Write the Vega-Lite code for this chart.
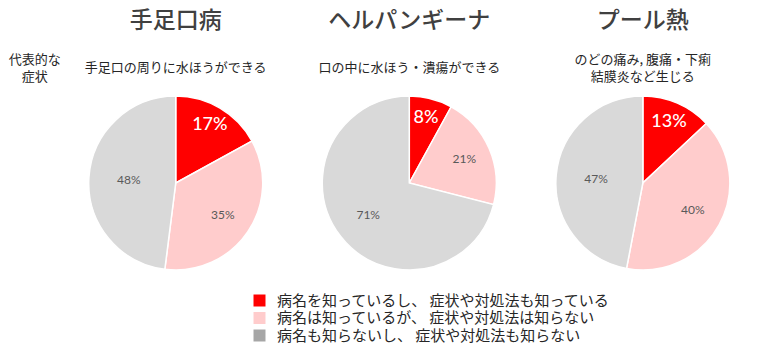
{
  "$schema": "https://vega.github.io/schema/vega-lite/v6.json",
  "width": 760,
  "height": 354,
  "autosize": {"type": "fit", "contains": "padding"},
  "padding": {"top": 12, "left": 0, "right": 0, "bottom": 0},
  "background": "white",
  "config": {"view": {"stroke": null}, "font": "Noto Sans CJK JP"},
  "datasets": {
    "shares": [
      {"disease": "手足口病", "category": "病名を知っているし、 症状や対処法も知っている", "k": 1, "share": 0.17},
      {"disease": "手足口病", "category": "病名は知っているが、 症状や対処法は知らない", "k": 2, "share": 0.35},
      {"disease": "手足口病", "category": "病名も知らないし、 症状や対処法も知らない", "k": 3, "share": 0.48},
      {"disease": "ヘルパンギーナ", "category": "病名を知っているし、 症状や対処法も知っている", "k": 1, "share": 0.08},
      {"disease": "ヘルパンギーナ", "category": "病名は知っているが、 症状や対処法は知らない", "k": 2, "share": 0.21},
      {"disease": "ヘルパンギーナ", "category": "病名も知らないし、 症状や対処法も知らない", "k": 3, "share": 0.71},
      {"disease": "プール熱", "category": "病名を知っているし、 症状や対処法も知っている", "k": 1, "share": 0.13},
      {"disease": "プール熱", "category": "病名は知っているが、 症状や対処法は知らない", "k": 2, "share": 0.40},
      {"disease": "プール熱", "category": "病名も知らないし、 症状や対処法も知らない", "k": 3, "share": 0.47}
    ],
    "diseases": [
      {"disease": "手足口病"},
      {"disease": "ヘルパンギーナ"},
      {"disease": "プール熱"}
    ],
    "subtitles1": [
      {"disease": "手足口病", "subtitle": "手足口の周りに水ほうができる"},
      {"disease": "ヘルパンギーナ", "subtitle": "口の中に水ほう・潰瘍ができる"}
    ],
    "subtitles2": [
      {"disease": "プール熱", "subtitle": ["のどの痛み, 腹痛・下痢", "結膜炎など生じる"]}
    ],
    "sidelabel": [
      {"disease": "手足口病", "label": ["代表的な", "症状"]}
    ]
  },
  "encoding": {
    "x": {
      "field": "disease",
      "type": "nominal",
      "axis": null,
      "scale": {"type": "point", "domain": ["手足口病", "ヘルパンギーナ", "プール熱"], "padding": 0.627, "align": 0.6}
    }
  },
  "layer": [
    {
      "data": {"name": "shares"},
      "transform": [{"filter": {"field": "disease", "equal": "手足口病"}}],
      "layer": [
        {
          "mark": {"type": "arc", "outerRadius": 87, "stroke": "white", "strokeWidth": 1.5},
          "encoding": {
            "theta": {"field": "share", "type": "quantitative", "stack": true},
            "order": {"field": "k", "type": "ordinal"},
            "color": {"field": "k", "type": "nominal", "legend": null, "scale": {"domain": [1, 2, 3], "range": ["#FF0000", "#FFCCCC", "#D9D9D9"]}}
          }
        },
        {
          "mark": {"type": "text", "font": "Lato", "fontWeight": 500, "fontSize": 18, "color": "white", "radius": 67, "align": "center", "baseline": "middle"},
          "encoding": {
            "theta": {"field": "share", "type": "quantitative", "stack": true},
            "order": {"field": "k", "type": "ordinal"},
            "text": {"condition": {"test": "datum.k !== 1", "value": ""}, "field": "share", "type": "quantitative", "format": ".0%"}
          }
        },
        {
          "mark": {"type": "text", "font": "Lato", "fontSize": 12, "color": "#595959", "radius": 57, "align": "center", "baseline": "middle"},
          "encoding": {
            "theta": {"field": "share", "type": "quantitative", "stack": true},
            "order": {"field": "k", "type": "ordinal"},
            "text": {"condition": {"test": "datum.k !== 2", "value": ""}, "field": "share", "type": "quantitative", "format": ".0%"}
          }
        },
        {
          "mark": {"type": "text", "font": "Lato", "fontSize": 12, "color": "#595959", "radius": 47, "align": "center", "baseline": "middle"},
          "encoding": {
            "theta": {"field": "share", "type": "quantitative", "stack": true},
            "order": {"field": "k", "type": "ordinal"},
            "text": {"condition": {"test": "datum.k !== 3", "value": ""}, "field": "share", "type": "quantitative", "format": ".0%"}
          }
        }
      ]
    },
    {
      "data": {"name": "shares"},
      "transform": [{"filter": {"field": "disease", "equal": "ヘルパンギーナ"}}],
      "layer": [
        {
          "mark": {"type": "arc", "outerRadius": 87, "stroke": "white", "strokeWidth": 1.5},
          "encoding": {
            "theta": {"field": "share", "type": "quantitative", "stack": true},
            "order": {"field": "k", "type": "ordinal"},
            "color": {"field": "k", "type": "nominal", "legend": null, "scale": {"domain": [1, 2, 3], "range": ["#FF0000", "#FFCCCC", "#D9D9D9"]}}
          }
        },
        {
          "mark": {"type": "text", "font": "Lato", "fontWeight": 500, "fontSize": 18, "color": "white", "radius": 67, "align": "center", "baseline": "middle"},
          "encoding": {
            "theta": {"field": "share", "type": "quantitative", "stack": true},
            "order": {"field": "k", "type": "ordinal"},
            "text": {"condition": {"test": "datum.k !== 1", "value": ""}, "field": "share", "type": "quantitative", "format": ".0%"}
          }
        },
        {
          "mark": {"type": "text", "font": "Lato", "fontSize": 12, "color": "#595959", "radius": 60, "align": "center", "baseline": "middle"},
          "encoding": {
            "theta": {"field": "share", "type": "quantitative", "stack": true},
            "order": {"field": "k", "type": "ordinal"},
            "text": {"condition": {"test": "datum.k !== 2", "value": ""}, "field": "share", "type": "quantitative", "format": ".0%"}
          }
        },
        {
          "mark": {"type": "text", "font": "Lato", "fontSize": 12, "color": "#595959", "radius": 52, "align": "center", "baseline": "middle"},
          "encoding": {
            "theta": {"field": "share", "type": "quantitative", "stack": true},
            "order": {"field": "k", "type": "ordinal"},
            "text": {"condition": {"test": "datum.k !== 3", "value": ""}, "field": "share", "type": "quantitative", "format": ".0%"}
          }
        }
      ]
    },
    {
      "data": {"name": "shares"},
      "transform": [{"filter": {"field": "disease", "equal": "プール熱"}}],
      "layer": [
        {
          "mark": {"type": "arc", "outerRadius": 87, "stroke": "white", "strokeWidth": 1.5},
          "encoding": {
            "theta": {"field": "share", "type": "quantitative", "stack": true},
            "order": {"field": "k", "type": "ordinal"},
            "color": {"field": "k", "type": "nominal", "legend": null, "scale": {"domain": [1, 2, 3], "range": ["#FF0000", "#FFCCCC", "#D9D9D9"]}}
          }
        },
        {
          "mark": {"type": "text", "font": "Lato", "fontWeight": 500, "fontSize": 18, "color": "white", "radius": 66, "align": "center", "baseline": "middle"},
          "encoding": {
            "theta": {"field": "share", "type": "quantitative", "stack": true},
            "order": {"field": "k", "type": "ordinal"},
            "text": {"condition": {"test": "datum.k !== 1", "value": ""}, "field": "share", "type": "quantitative", "format": ".0%"}
          }
        },
        {
          "mark": {"type": "text", "font": "Lato", "fontSize": 12, "color": "#595959", "radius": 57, "align": "center", "baseline": "middle"},
          "encoding": {
            "theta": {"field": "share", "type": "quantitative", "stack": true},
            "order": {"field": "k", "type": "ordinal"},
            "text": {"condition": {"test": "datum.k !== 2", "value": ""}, "field": "share", "type": "quantitative", "format": ".0%"}
          }
        },
        {
          "mark": {"type": "text", "font": "Lato", "fontSize": 12, "color": "#595959", "radius": 47, "align": "center", "baseline": "middle"},
          "encoding": {
            "theta": {"field": "share", "type": "quantitative", "stack": true},
            "order": {"field": "k", "type": "ordinal"},
            "text": {"condition": {"test": "datum.k !== 3", "value": ""}, "field": "share", "type": "quantitative", "format": ".0%"}
          }
        }
      ]
    },
    {
      "data": {"name": "shares"},
      "mark": {"type": "square", "opacity": 0, "size": 1},
      "encoding": {
        "fill": {
          "field": "category", "type": "nominal",
          "scale": {"domain": ["病名を知っているし、 症状や対処法も知っている", "病名は知っているが、 症状や対処法は知らない", "病名も知らないし、 症状や対処法も知らない"], "range": ["#FF0000", "#FFCCCC", "#A6A6A6"]},
          "legend": {
            "title": null, "orient": "none", "legendX": 252, "legendY": 281, "padding": 0,
            "symbolType": "square", "symbolSize": 144, "symbolStrokeWidth": 0, "symbolOpacity": 1,
            "labelFontSize": 15, "labelFont": "Noto Sans CJK JP", "labelColor": "#262626", "labelLimit": 0,
            "rowPadding": 1.5, "labelOffset": 10
          }
        }
      }
    },
    {
      "data": {"name": "diseases"},
      "mark": {"type": "text", "dy": -162, "fontSize": 23, "font": "Noto Sans CJK JP", "fontWeight": 500, "color": "#404040", "align": "center", "baseline": "middle"},
      "encoding": {"text": {"field": "disease", "type": "nominal"}}
    },
    {
      "data": {"name": "subtitles1"},
      "mark": {"type": "text", "dy": -115, "fontSize": 13, "font": "Noto Sans CJK JP", "color": "#262626", "align": "center", "baseline": "middle"},
      "encoding": {"text": {"field": "subtitle"}}
    },
    {
      "data": {"name": "subtitles2"},
      "mark": {"type": "text", "dy": -123, "fontSize": 13, "lineHeight": 17, "font": "Noto Sans CJK JP", "color": "#262626", "align": "center", "baseline": "middle"},
      "encoding": {"text": {"field": "subtitle"}}
    },
    {
      "data": {"name": "sidelabel"},
      "mark": {"type": "text", "dx": -141, "dy": -123, "fontSize": 13, "lineHeight": 17, "font": "Noto Sans CJK JP", "color": "#262626", "align": "center", "baseline": "middle"},
      "encoding": {"text": {"field": "label"}}
    }
  ]
}
